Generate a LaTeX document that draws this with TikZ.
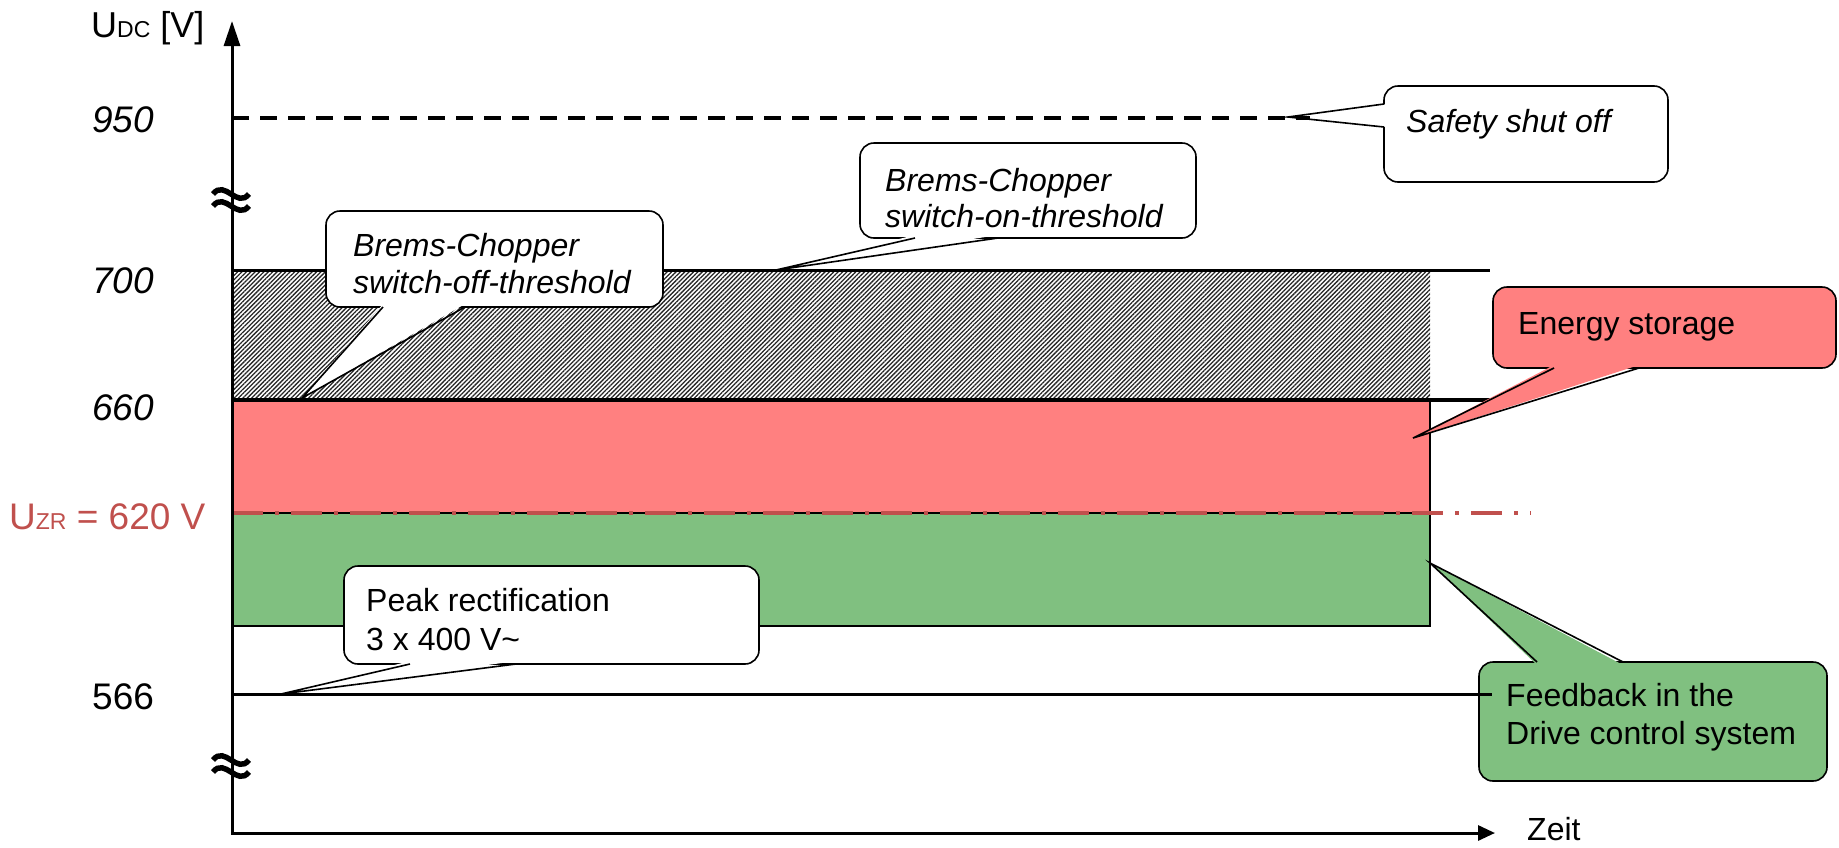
\documentclass[tikz,border=0pt]{standalone}
\usepackage{fontspec}
\setmainfont{Liberation Sans}
\usetikzlibrary{arrows.meta,patterns.meta,calc}
\definecolor{redfill}{HTML}{FF8080}
\definecolor{greenfill}{HTML}{80C080}
\definecolor{zrred}{HTML}{C0504D}
\newcommand\calloutptr[5]{%
  \fill[#1] ($(#2)+(#5)$) -- (#3) -- ($(#4)+(#5)$) -- cycle;
  \draw[line width=1.6pt] (#2) -- (#3) -- (#4);
}
\begin{document}
\begin{tikzpicture}[x=1pt,y=-1pt,
  callbox/.style={draw=black,line width=1.6pt,rounded corners=14pt,inner sep=0pt,outer sep=0pt,anchor=north west},
  calltext/.style={anchor=base west,inner sep=0pt,font=\fontsize{32}{37}\selectfont},
  axislabel/.style={anchor=west,inner sep=0pt,font=\fontsize{37}{40}\selectfont},
  levelline/.style={line width=3pt},
]
\useasboundingbox (0,0) rectangle (1839,847);

% regions
\fill[pattern={Lines[angle=45,distance=3.1pt,line width=1.3pt]},pattern color=black!85] (232,270) rectangle (1430,400);
\draw[fill=redfill,line width=1.2pt] (232,400) rectangle (1430,513);
\draw[fill=greenfill,line width=1.5pt] (232,513) rectangle (1430,626);

% level lines
\draw[levelline] (232,270) -- (1490,270);
\draw[levelline,line width=3.5pt] (232,400) -- (1490,400);
\draw[zrred,line width=4pt,dash pattern=on 31pt off 12pt on 4pt off 12pt] (232,513) -- (1531,513);

% axes
\draw[line width=3pt,{Triangle[length=25pt,width=16pt]}-{Triangle[length=17pt,width=15pt]}] (232,21) -- (232,833) -- (1495,833);

% breaks
\foreach \c in {200,766}{
  \draw[line width=5.5pt] (213,\c-6) .. controls (225,\c-21) and (237,\c+9) .. (249,\c-6);
  \draw[line width=5.5pt] (213,\c+6) .. controls (225,\c-9) and (237,\c+21) .. (249,\c+6);
}

% axis labels
\node[anchor=base west,inner sep=0pt,font=\fontsize{36}{40}\selectfont] (udc) at (91,37) {U{\fontsize{23}{24}\selectfont DC} [V]};
\node[axislabel] (l950) at (92,120) {\itshape 950};
\node[axislabel] (l700) at (92,281) {\itshape 700};
\node[axislabel] (l660) at (92,408) {\itshape 660};
\node[axislabel,text=zrred] (lzr) at (9,517) {U{\fontsize{23}{24}\selectfont ZR} = 620 V};
\node[axislabel] (l566) at (92,697) {566};
\node[calltext] (zeit) at (1527,840) {Zeit};

% Safety shut off
\node[callbox,fill=white,minimum width=284pt,minimum height=96pt] (safebox) at (1384,86) {};
\coordinate (sb1) at ($(safebox.north west)+(0,18)$);
\coordinate (sb2) at ($(safebox.north west)+(0,41)$);
\coordinate (safetip) at (1288,117);
\calloutptr{white}{sb1}{safetip}{sb2}{3,0}
\draw[line width=3.5pt,dash pattern=on 17pt off 11pt] (232,118) -- (1310,118);
\node[calltext] (safetext) at (1406,132) {\itshape Safety shut off};

% Brems-Chopper switch-on
\node[callbox,fill=white,minimum width=336pt,minimum height=95pt] (onbox) at (860,143) {};
\coordinate (ob1) at ($(onbox.south west)+(55,0)$);
\coordinate (ob2) at ($(onbox.south west)+(138,0)$);
\coordinate (ontip) at (776,270);
\calloutptr{white}{ob1}{ontip}{ob2}{0,-3}
\node[calltext] (ontext1) at (885,191) {\itshape Brems-Chopper};
\node[calltext] (ontext2) at (885,227) {\itshape switch-on-threshold};

% Brems-Chopper switch-off
\node[callbox,fill=white,minimum width=337pt,minimum height=96pt] (offbox) at (326,211) {};
\coordinate (fb1) at ($(offbox.south west)+(57,0)$);
\coordinate (fb2) at ($(offbox.south west)+(139,0)$);
\coordinate (offtip) at (302,398);
\calloutptr{white}{fb1}{offtip}{fb2}{0,-3}
\node[calltext] (offtext1) at (353,256) {\itshape Brems-Chopper};
\node[calltext] (offtext2) at (353,293) {\itshape switch-off-threshold};

% Energy storage
\node[callbox,fill=redfill,minimum width=343pt,minimum height=81pt] (enbox) at (1493,287) {};
\coordinate (eb1) at ($(enbox.south west)+(61,0)$);
\coordinate (eb2) at ($(enbox.south west)+(146,0)$);
\coordinate (entip) at (1413,438);
\calloutptr{redfill}{eb1}{entip}{eb2}{0,-3}
\node[calltext] (entext) at (1518,334) {Energy storage};

% Feedback
\node[callbox,fill=greenfill,minimum width=348pt,minimum height=119pt] (fdbox) at (1479,662) {};
\coordinate (db1) at ($(fdbox.north west)+(58,0)$);
\coordinate (db2) at ($(fdbox.north west)+(144,0)$);
\coordinate (fdtip) at (1430,563);
\calloutptr{greenfill}{db1}{fdtip}{db2}{0,3}
\node[calltext] (fdtext1) at (1506,706) {Feedback in the};
\node[calltext] (fdtext2) at (1506,744) {Drive control system};

% Peak rectification
\node[callbox,fill=white,minimum width=415pt,minimum height=98pt] (pkbox) at (344,566) {};
\coordinate (pb1) at ($(pkbox.south west)+(66,0)$);
\coordinate (pb2) at ($(pkbox.south west)+(172,0)$);
\coordinate (pktip) at (281,694);
\calloutptr{white}{pb1}{pktip}{pb2}{0,-3}
\node[calltext] (pktext1) at (366,611) {Peak rectification};
\node[calltext] (pktext2) at (366,650) {3 x 400 V\textasciitilde};

% 566 line
\draw[levelline] (232,694) -- (1492,694);
\end{tikzpicture}
\end{document}
